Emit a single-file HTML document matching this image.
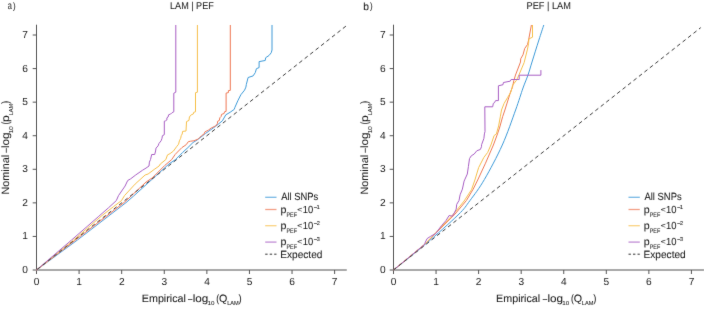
<!DOCTYPE html><html><head><meta charset="utf-8"><style>html,body{margin:0;padding:0;background:#fff;width:704px;height:309px;overflow:hidden}svg{display:block;will-change:transform}text{font-family:"Liberation Sans",sans-serif;fill:#222222;stroke:#222222;stroke-width:0.07px}</style></head><body>
<svg width="704" height="309" viewBox="0 0 704 309">
<defs><filter id="bl" x="0" y="0" width="704" height="309" filterUnits="userSpaceOnUse"><feConvolveMatrix order="3" kernelMatrix="0.00524 0.06192 0.00524 0.06192 0.73137 0.06192 0.00524 0.06192 0.00524" edgeMode="none"/></filter></defs><rect width="704" height="309" fill="#fff"/><g filter="url(#bl)">
<path d="M36.5,24.7V270M32.70,270H346.8" stroke="#555555" stroke-width="1" fill="none"/>
<path d="M36.50,270V274M79.09,270V274M32.70,236.43H36.5M121.68,270V274M32.70,202.86H36.5M164.27,270V274M32.70,169.29H36.5M206.86,270V274M32.70,135.72H36.5M249.45,270V274M32.70,102.15H36.5M292.04,270V274M32.70,68.58H36.5M334.63,270V274M32.70,35.01H36.5" stroke="#555555" stroke-width="1" fill="none"/>
<g transform="matrix(1,0,0.001,1,-0.2855,0)"><text x="33.76" y="285.50" font-size="10.2" textLength="5.67" lengthAdjust="spacingAndGlyphs" style="stroke:none">0</text></g>
<g transform="matrix(1,0,0.001,1,-0.2730,0)"><text x="22.23" y="273.00" font-size="10.2" textLength="5.67" lengthAdjust="spacingAndGlyphs" style="stroke:none">0</text></g>
<g transform="matrix(1,0,0.001,1,-0.2855,0)"><text x="76.21" y="285.50" font-size="10.2" textLength="5.67" lengthAdjust="spacingAndGlyphs" style="stroke:none">1</text></g>
<g transform="matrix(1,0,0.001,1,-0.2394,0)"><text x="22.33" y="239.43" font-size="10.2" textLength="5.67" lengthAdjust="spacingAndGlyphs" style="stroke:none">1</text></g>
<g transform="matrix(1,0,0.001,1,-0.2855,0)"><text x="118.94" y="285.50" font-size="10.2" textLength="5.67" lengthAdjust="spacingAndGlyphs" style="stroke:none">2</text></g>
<g transform="matrix(1,0,0.001,1,-0.2059,0)"><text x="22.34" y="205.86" font-size="10.2" textLength="5.67" lengthAdjust="spacingAndGlyphs" style="stroke:none">2</text></g>
<g transform="matrix(1,0,0.001,1,-0.2855,0)"><text x="161.56" y="285.50" font-size="10.2" textLength="5.67" lengthAdjust="spacingAndGlyphs" style="stroke:none">3</text></g>
<g transform="matrix(1,0,0.001,1,-0.1723,0)"><text x="22.28" y="172.29" font-size="10.2" textLength="5.67" lengthAdjust="spacingAndGlyphs" style="stroke:none">3</text></g>
<g transform="matrix(1,0,0.001,1,-0.2855,0)"><text x="204.16" y="285.50" font-size="10.2" textLength="5.67" lengthAdjust="spacingAndGlyphs" style="stroke:none">4</text></g>
<g transform="matrix(1,0,0.001,1,-0.1387,0)"><text x="22.13" y="138.72" font-size="10.2" textLength="5.67" lengthAdjust="spacingAndGlyphs" style="stroke:none">4</text></g>
<g transform="matrix(1,0,0.001,1,-0.2855,0)"><text x="246.72" y="285.50" font-size="10.2" textLength="5.67" lengthAdjust="spacingAndGlyphs" style="stroke:none">5</text></g>
<g transform="matrix(1,0,0.001,1,-0.1052,0)"><text x="22.26" y="105.15" font-size="10.2" textLength="5.67" lengthAdjust="spacingAndGlyphs" style="stroke:none">5</text></g>
<g transform="matrix(1,0,0.001,1,-0.2855,0)"><text x="289.27" y="285.50" font-size="10.2" textLength="5.67" lengthAdjust="spacingAndGlyphs" style="stroke:none">6</text></g>
<g transform="matrix(1,0,0.001,1,-0.0716,0)"><text x="22.28" y="71.58" font-size="10.2" textLength="5.67" lengthAdjust="spacingAndGlyphs" style="stroke:none">6</text></g>
<g transform="matrix(1,0,0.001,1,-0.2855,0)"><text x="331.89" y="285.50" font-size="10.2" textLength="5.67" lengthAdjust="spacingAndGlyphs" style="stroke:none">7</text></g>
<g transform="matrix(1,0,0.001,1,-0.0380,0)"><text x="22.34" y="38.01" font-size="10.2" textLength="5.67" lengthAdjust="spacingAndGlyphs" style="stroke:none">7</text></g>
<polyline points="36.5,270.0 77.4,240.0 126.0,202.6 133.6,196.0 168.9,164.0 175.5,159.6 182.8,152.3 187.9,147.6 193.0,142.5 197.3,139.9 204.1,134.6 205.3,133.6 215.6,126.3 222.4,120.8 225.8,114.8 230.1,112.3 234.3,109.3 234.8,107.6 237.8,100.8 240.8,94.8 244.6,90.1 245.9,87.1 246.3,84.6 248.1,77.5 253.1,75.9 255.3,72.6 256.4,68.7 259.1,67.6 259.1,61.6 265.2,60.5 265.7,57.7 269.0,55.5 271.2,52.8 272.0,50.0 272.0,25.0" stroke="#3d9ad8" stroke-width="1" fill="none" stroke-linejoin="round"/>
<polyline points="36.5,270.0 75.5,240.0 124.7,202.0 131.6,195.6 146.1,182.0 152.1,178.0 155.2,175.1 164.7,165.5 171.7,159.6 175.1,154.5 178.5,151.0 181.9,147.6 186.2,144.7 188.3,141.7 190.5,141.2 193.9,140.8 198.1,139.1 199.4,137.8 201.5,135.7 204.1,134.0 204.9,131.9 208.3,130.2 211.3,128.0 215.6,125.9 217.3,123.8 217.7,121.2 219.4,120.4 219.8,117.8 221.1,116.5 221.5,114.4 224.1,113.5 224.5,111.8 226.1,111.4 226.1,93.1 228.4,92.6 228.4,90.6 230.3,90.4 230.3,25.0" stroke="#ee7752" stroke-width="1" fill="none" stroke-linejoin="round"/>
<polyline points="36.5,270.0 73.6,240.0 102.0,215.5 113.7,206.5 121.5,200.6 124.5,195.6 135.1,184.1 145.1,175.0 148.1,174.0 154.1,169.5 159.1,166.0 160.3,164.0 165.8,159.6 167.5,154.9 170.1,153.6 173.5,151.0 176.5,146.8 178.6,144.2 179.4,140.8 180.7,138.3 181.2,135.7 182.2,134.0 182.6,131.4 186.0,131.0 186.5,121.6 189.0,120.4 189.4,117.0 191.2,114.8 193.3,114.0 193.7,112.3 195.5,111.8 195.5,92.7 197.4,92.2 197.4,25.0" stroke="#f6bf4a" stroke-width="1" fill="none" stroke-linejoin="round"/>
<polyline points="36.5,270.0 71.6,240.0 87.8,225.9 98.2,216.8 108.5,207.8 116.3,200.6 118.5,195.6 125.1,186.0 127.7,180.5 130.7,178.8 135.8,174.9 142.6,170.2 146.0,168.1 149.0,166.0 149.4,162.1 150.5,159.6 151.7,154.5 154.7,154.5 155.6,151.0 156.0,148.1 158.1,145.9 159.0,143.4 161.1,140.8 162.0,138.3 162.4,135.7 164.1,134.9 164.3,134.0 164.3,121.2 165.6,120.8 166.9,119.9 166.9,117.8 168.1,117.0 168.6,114.8 170.7,114.0 172.0,112.7 173.8,111.8 173.8,93.2 175.8,92.2 175.8,25.0" stroke="#a85fc4" stroke-width="1" fill="none" stroke-linejoin="round"/>
<path d="M36.5,270L346.13,25.95" stroke="#3a3a3a" stroke-width="1" stroke-dasharray="3.8 3.15" stroke-dashoffset="-0.95" fill="none"/>
<path d="M393.5,24.7V270M389.70,270H704" stroke="#555555" stroke-width="1" fill="none"/>
<path d="M393.50,270V274M436.06,270V274M389.70,236.43H393.5M478.62,270V274M389.70,202.86H393.5M521.18,270V274M389.70,169.29H393.5M563.74,270V274M389.70,135.72H393.5M606.30,270V274M389.70,102.15H393.5M648.86,270V274M389.70,68.58H393.5M691.42,270V274M389.70,35.01H393.5" stroke="#555555" stroke-width="1" fill="none"/>
<g transform="matrix(1,0,0.001,1,-0.2855,0)"><text x="390.76" y="285.50" font-size="10.2" textLength="5.67" lengthAdjust="spacingAndGlyphs" style="stroke:none">0</text></g>
<g transform="matrix(1,0,0.001,1,-0.2730,0)"><text x="380.03" y="273.00" font-size="10.2" textLength="5.67" lengthAdjust="spacingAndGlyphs" style="stroke:none">0</text></g>
<g transform="matrix(1,0,0.001,1,-0.2855,0)"><text x="433.18" y="285.50" font-size="10.2" textLength="5.67" lengthAdjust="spacingAndGlyphs" style="stroke:none">1</text></g>
<g transform="matrix(1,0,0.001,1,-0.2394,0)"><text x="380.13" y="239.43" font-size="10.2" textLength="5.67" lengthAdjust="spacingAndGlyphs" style="stroke:none">1</text></g>
<g transform="matrix(1,0,0.001,1,-0.2855,0)"><text x="475.88" y="285.50" font-size="10.2" textLength="5.67" lengthAdjust="spacingAndGlyphs" style="stroke:none">2</text></g>
<g transform="matrix(1,0,0.001,1,-0.2059,0)"><text x="380.14" y="205.86" font-size="10.2" textLength="5.67" lengthAdjust="spacingAndGlyphs" style="stroke:none">2</text></g>
<g transform="matrix(1,0,0.001,1,-0.2855,0)"><text x="518.47" y="285.50" font-size="10.2" textLength="5.67" lengthAdjust="spacingAndGlyphs" style="stroke:none">3</text></g>
<g transform="matrix(1,0,0.001,1,-0.1723,0)"><text x="380.08" y="172.29" font-size="10.2" textLength="5.67" lengthAdjust="spacingAndGlyphs" style="stroke:none">3</text></g>
<g transform="matrix(1,0,0.001,1,-0.2855,0)"><text x="561.04" y="285.50" font-size="10.2" textLength="5.67" lengthAdjust="spacingAndGlyphs" style="stroke:none">4</text></g>
<g transform="matrix(1,0,0.001,1,-0.1387,0)"><text x="379.93" y="138.72" font-size="10.2" textLength="5.67" lengthAdjust="spacingAndGlyphs" style="stroke:none">4</text></g>
<g transform="matrix(1,0,0.001,1,-0.2855,0)"><text x="603.57" y="285.50" font-size="10.2" textLength="5.67" lengthAdjust="spacingAndGlyphs" style="stroke:none">5</text></g>
<g transform="matrix(1,0,0.001,1,-0.1052,0)"><text x="380.06" y="105.15" font-size="10.2" textLength="5.67" lengthAdjust="spacingAndGlyphs" style="stroke:none">5</text></g>
<g transform="matrix(1,0,0.001,1,-0.2855,0)"><text x="646.09" y="285.50" font-size="10.2" textLength="5.67" lengthAdjust="spacingAndGlyphs" style="stroke:none">6</text></g>
<g transform="matrix(1,0,0.001,1,-0.0716,0)"><text x="380.08" y="71.58" font-size="10.2" textLength="5.67" lengthAdjust="spacingAndGlyphs" style="stroke:none">6</text></g>
<g transform="matrix(1,0,0.001,1,-0.2855,0)"><text x="688.68" y="285.50" font-size="10.2" textLength="5.67" lengthAdjust="spacingAndGlyphs" style="stroke:none">7</text></g>
<g transform="matrix(1,0,0.001,1,-0.0380,0)"><text x="380.14" y="38.01" font-size="10.2" textLength="5.67" lengthAdjust="spacingAndGlyphs" style="stroke:none">7</text></g>
<path d="M393.50,270.00C398.75,265.75 414.25,253.67 425.00,244.50C435.75,235.33 450.50,222.33 458.00,215.00C465.50,207.67 465.60,206.42 470.00,200.50C474.40,194.58 479.02,188.75 484.40,179.50C489.78,170.25 497.10,156.58 502.30,145.00C507.50,133.42 512.15,119.50 515.60,110.00C519.05,100.50 520.93,93.83 523.00,88.00C525.07,82.17 526.50,79.33 528.00,75.00C529.50,70.67 530.18,67.83 532.00,62.00C533.82,56.17 536.93,46.17 538.90,40.00C540.87,33.83 542.98,27.50 543.80,25.00" stroke="#3d9ad8" stroke-width="1" fill="none"/>
<polyline points="393.5,270.0 424.5,244.5 455.0,214.1 466.4,200.5 473.2,189.1 477.7,180.0 485.5,163.2 493.4,145.0 497.5,133.9 499.8,127.0 502.6,116.8 504.9,110.0 510.9,90.9 512.4,87.6 513.8,80.7 515.5,75.0 520.5,62.0 520.7,58.8 523.0,54.8 524.7,48.5 527.5,44.5 528.6,40.0 531.4,25.0" stroke="#ee7752" stroke-width="1" fill="none" stroke-linejoin="round"/>
<polyline points="393.5,270.0 424.5,244.5 454.4,213.0 464.1,201.0 471.5,189.7 474.9,180.0 478.6,167.7 483.8,157.5 487.7,152.4 490.9,145.0 494.1,135.6 496.4,133.9 498.6,125.9 500.3,116.8 501.5,110.0 504.1,103.4 507.5,97.7 510.9,92.0 512.6,85.2 516.6,80.1 518.9,75.0 524.1,62.7 527.5,49.1 528.6,43.4 528.9,38.9 532.5,37.2 532.5,25.0" stroke="#f6bf4a" stroke-width="1" fill="none" stroke-linejoin="round"/>
<polyline points="393.5,270.0 424.5,244.5 425.4,242.0 427.1,238.6 430.5,236.4 435.7,233.5 441.3,225.9 445.9,220.7 449.1,215.5 452.3,216.2 454.3,212.9 456.2,209.1 456.7,204.4 459.0,200.5 460.1,194.8 462.4,189.1 464.1,181.1 465.0,179.1 467.3,174.0 468.4,166.6 469.5,158.6 471.3,155.8 474.1,154.1 476.9,150.7 480.3,149.5 481.5,146.7 481.6,144.7 483.9,138.4 484.4,133.9 485.0,131.6 484.8,106.8 492.7,106.8 493.3,103.4 494.4,102.8 495.6,100.6 498.4,100.6 498.4,85.8 503.0,84.7 503.4,82.5 510.2,81.2 511.1,79.5 519.2,79.5 519.2,75.2 540.9,75.2 540.9,70.1" stroke="#a85fc4" stroke-width="1" fill="none" stroke-linejoin="round"/>
<path d="M393.5,270L700.78,27.62" stroke="#3a3a3a" stroke-width="1" stroke-dasharray="3.8 3.15" stroke-dashoffset="0.1" fill="none"/>
<g transform="matrix(1,0,0.001,1,-0.0092,0)"><text x="7.69" y="9.25" font-size="10.4" textLength="4.11" lengthAdjust="spacingAndGlyphs">a</text></g>
<g transform="matrix(1,0,0.001,1,-0.0088,0)"><text x="13.05" y="8.80" font-size="9.4" textLength="2.64" lengthAdjust="spacingAndGlyphs">)</text></g>
<g transform="matrix(1,0,0.001,1,-0.0098,0)"><text x="363.14" y="9.80" font-size="10.4" textLength="5.69" lengthAdjust="spacingAndGlyphs">b</text></g>
<g transform="matrix(1,0,0.001,1,-0.0089,0)"><text x="370.05" y="8.90" font-size="9.4" textLength="2.64" lengthAdjust="spacingAndGlyphs">)</text></g>
<g transform="matrix(1,0,0.001,1,-0.0093,0)"><text x="170.06" y="9.30" font-size="9.9" textLength="43.71" lengthAdjust="spacingAndGlyphs">LAM | PEF</text></g>
<g transform="matrix(1,0,0.001,1,-0.0093,0)"><text x="526.55" y="9.30" font-size="9.9" textLength="44.31" lengthAdjust="spacingAndGlyphs">PEF | LAM</text></g>
<g transform="matrix(1,0,0.001,1,-0.3020,0)"><text x="141.82" y="302.00" font-size="10.6" textLength="44.10" lengthAdjust="spacingAndGlyphs">Empirical</text></g>
<g transform="matrix(1,0,0.001,1,-0.3020,0)"><text x="188.10" y="302.00" font-size="10.6" textLength="4.40" lengthAdjust="spacingAndGlyphs">–</text></g>
<g transform="matrix(1,0,0.001,1,-0.3020,0)"><text x="192.71" y="302.00" font-size="10.6" textLength="15.65" lengthAdjust="spacingAndGlyphs">log</text></g>
<g transform="matrix(1,0,0.001,1,-0.3054,0)"><text x="207.53" y="305.40" font-size="5.7" textLength="6.92" lengthAdjust="spacingAndGlyphs">10</text></g>
<g transform="matrix(1,0,0.001,1,-0.3020,0)"><text x="216.26" y="302.00" font-size="10.6" textLength="2.89" lengthAdjust="spacingAndGlyphs">(</text></g>
<g transform="matrix(1,0,0.001,1,-0.3020,0)"><text x="218.99" y="302.00" font-size="10.6" textLength="8.32" lengthAdjust="spacingAndGlyphs">Q</text></g>
<g transform="matrix(1,0,0.001,1,-0.3054,0)"><text x="227.14" y="305.40" font-size="5.7" textLength="11.63" lengthAdjust="spacingAndGlyphs">LAM</text></g>
<g transform="matrix(1,0,0.001,1,-0.3020,0)"><text x="238.44" y="302.00" font-size="10.6" textLength="3.14" lengthAdjust="spacingAndGlyphs">)</text></g>
<g transform="matrix(1,0,0.001,1,-0.3020,0)"><text x="496.12" y="302.00" font-size="10.6" textLength="44.10" lengthAdjust="spacingAndGlyphs">Empirical</text></g>
<g transform="matrix(1,0,0.001,1,-0.3020,0)"><text x="542.80" y="302.00" font-size="10.6" textLength="4.40" lengthAdjust="spacingAndGlyphs">–</text></g>
<g transform="matrix(1,0,0.001,1,-0.3020,0)"><text x="547.41" y="302.00" font-size="10.6" textLength="15.65" lengthAdjust="spacingAndGlyphs">log</text></g>
<g transform="matrix(1,0,0.001,1,-0.3054,0)"><text x="562.23" y="305.40" font-size="5.7" textLength="6.92" lengthAdjust="spacingAndGlyphs">10</text></g>
<g transform="matrix(1,0,0.001,1,-0.3020,0)"><text x="570.96" y="302.00" font-size="10.6" textLength="2.89" lengthAdjust="spacingAndGlyphs">(</text></g>
<g transform="matrix(1,0,0.001,1,-0.3020,0)"><text x="573.79" y="302.00" font-size="10.6" textLength="8.32" lengthAdjust="spacingAndGlyphs">Q</text></g>
<g transform="matrix(1,0,0.001,1,-0.3054,0)"><text x="581.84" y="305.40" font-size="5.7" textLength="11.63" lengthAdjust="spacingAndGlyphs">LAM</text></g>
<g transform="matrix(1,0,0.001,1,-0.3020,0)"><text x="593.14" y="302.00" font-size="10.6" textLength="3.14" lengthAdjust="spacingAndGlyphs">)</text></g>
<g transform="translate(9.20,193.7) rotate(-90)">
<g transform="matrix(1,0,0.001,1,-0.0000,0)"><text x="-0.89" y="0.00" font-size="10.6" textLength="39.71" lengthAdjust="spacingAndGlyphs">Nominal</text></g>
<g transform="matrix(1,0,0.001,1,-0.0000,0)"><text x="41.00" y="0.00" font-size="10.6" textLength="4.40" lengthAdjust="spacingAndGlyphs">–</text></g>
<g transform="matrix(1,0,0.001,1,-0.0000,0)"><text x="45.61" y="0.00" font-size="10.6" textLength="15.65" lengthAdjust="spacingAndGlyphs">log</text></g>
<g transform="matrix(1,0,0.001,1,-0.0034,0)"><text x="60.43" y="3.40" font-size="5.7" textLength="6.92" lengthAdjust="spacingAndGlyphs">10</text></g>
<g transform="matrix(1,0,0.001,1,-0.0000,0)"><text x="69.16" y="0.00" font-size="10.6" textLength="2.89" lengthAdjust="spacingAndGlyphs">(</text></g>
<g transform="matrix(1,0,0.001,1,-0.0000,0)"><text x="71.73" y="0.00" font-size="10.6" textLength="6.68" lengthAdjust="spacingAndGlyphs">p</text></g>
<g transform="matrix(1,0,0.001,1,-0.0034,0)"><text x="78.34" y="3.40" font-size="5.7" textLength="11.63" lengthAdjust="spacingAndGlyphs">LAM</text></g>
<g transform="matrix(1,0,0.001,1,-0.0000,0)"><text x="89.64" y="0.00" font-size="10.6" textLength="3.39" lengthAdjust="spacingAndGlyphs">)</text></g>
</g>
<g transform="translate(368.20,193.7) rotate(-90)">
<g transform="matrix(1,0,0.001,1,-0.0000,0)"><text x="-0.89" y="0.00" font-size="10.6" textLength="39.71" lengthAdjust="spacingAndGlyphs">Nominal</text></g>
<g transform="matrix(1,0,0.001,1,-0.0000,0)"><text x="41.00" y="0.00" font-size="10.6" textLength="4.40" lengthAdjust="spacingAndGlyphs">–</text></g>
<g transform="matrix(1,0,0.001,1,-0.0000,0)"><text x="45.61" y="0.00" font-size="10.6" textLength="15.65" lengthAdjust="spacingAndGlyphs">log</text></g>
<g transform="matrix(1,0,0.001,1,-0.0034,0)"><text x="60.43" y="3.40" font-size="5.7" textLength="6.92" lengthAdjust="spacingAndGlyphs">10</text></g>
<g transform="matrix(1,0,0.001,1,-0.0000,0)"><text x="69.16" y="0.00" font-size="10.6" textLength="2.89" lengthAdjust="spacingAndGlyphs">(</text></g>
<g transform="matrix(1,0,0.001,1,-0.0000,0)"><text x="71.73" y="0.00" font-size="10.6" textLength="6.68" lengthAdjust="spacingAndGlyphs">p</text></g>
<g transform="matrix(1,0,0.001,1,-0.0034,0)"><text x="78.34" y="3.40" font-size="5.7" textLength="11.63" lengthAdjust="spacingAndGlyphs">LAM</text></g>
<g transform="matrix(1,0,0.001,1,-0.0000,0)"><text x="89.64" y="0.00" font-size="10.6" textLength="3.39" lengthAdjust="spacingAndGlyphs">)</text></g>
</g>
<path d="M265.20,197.3h11.3" stroke="#3d9ad8" stroke-width="1.3" stroke-opacity="0.7"/>
<path d="M265.20,209.5h11.3" stroke="#ee7752" stroke-width="1.3" stroke-opacity="0.7"/>
<path d="M265.20,225.7h11.3" stroke="#f6bf4a" stroke-width="1.3" stroke-opacity="0.7"/>
<path d="M265.20,242.1h11.3" stroke="#a85fc4" stroke-width="1.3" stroke-opacity="0.7"/>
<path d="M265.20,254.2h11.3" stroke="#333" stroke-width="1" stroke-dasharray="2.4 2.1"/>
<g transform="matrix(1,0,0.001,1,-0.1997,0)"><text x="281.18" y="199.70" font-size="10.4" textLength="37.16" lengthAdjust="spacingAndGlyphs">All SNPs</text></g>
<g transform="matrix(1,0,0.001,1,-0.2126,0)"><text x="280.51" y="212.60" font-size="10.4" textLength="5.94" lengthAdjust="spacingAndGlyphs">p</text></g>
<g transform="matrix(1,0,0.001,1,-0.2166,0)"><text x="286.45" y="216.60" font-size="6.6" textLength="10.56" lengthAdjust="spacingAndGlyphs">PEF</text></g>
<g transform="matrix(1,0,0.001,1,-0.2117,0)"><text x="297.38" y="211.70" font-size="7.0" textLength="4.93" lengthAdjust="spacingAndGlyphs">&lt;</text></g>
<g transform="matrix(1,0,0.001,1,-0.2126,0)"><text x="302.78" y="212.60" font-size="10.2" textLength="10.49" lengthAdjust="spacingAndGlyphs">10</text></g>
<g transform="matrix(1,0,0.001,1,-0.2087,0)"><text x="313.90" y="208.70" font-size="6.6" textLength="3.10" lengthAdjust="spacingAndGlyphs">–</text></g>
<g transform="matrix(1,0,0.001,1,-0.2086,0)"><text x="316.54" y="208.60" font-size="5.6" textLength="3.35" lengthAdjust="spacingAndGlyphs">1</text></g>
<g transform="matrix(1,0,0.001,1,-0.2288,0)"><text x="280.51" y="228.80" font-size="10.4" textLength="5.94" lengthAdjust="spacingAndGlyphs">p</text></g>
<g transform="matrix(1,0,0.001,1,-0.2328,0)"><text x="286.45" y="232.80" font-size="6.6" textLength="10.56" lengthAdjust="spacingAndGlyphs">PEF</text></g>
<g transform="matrix(1,0,0.001,1,-0.2279,0)"><text x="297.38" y="227.90" font-size="7.0" textLength="4.93" lengthAdjust="spacingAndGlyphs">&lt;</text></g>
<g transform="matrix(1,0,0.001,1,-0.2288,0)"><text x="302.78" y="228.80" font-size="10.2" textLength="10.49" lengthAdjust="spacingAndGlyphs">10</text></g>
<g transform="matrix(1,0,0.001,1,-0.2249,0)"><text x="313.90" y="224.90" font-size="6.6" textLength="3.10" lengthAdjust="spacingAndGlyphs">–</text></g>
<g transform="matrix(1,0,0.001,1,-0.2248,0)"><text x="316.71" y="224.80" font-size="5.6" textLength="3.17" lengthAdjust="spacingAndGlyphs">2</text></g>
<g transform="matrix(1,0,0.001,1,-0.2452,0)"><text x="280.51" y="245.20" font-size="10.4" textLength="5.94" lengthAdjust="spacingAndGlyphs">p</text></g>
<g transform="matrix(1,0,0.001,1,-0.2492,0)"><text x="286.45" y="249.20" font-size="6.6" textLength="10.56" lengthAdjust="spacingAndGlyphs">PEF</text></g>
<g transform="matrix(1,0,0.001,1,-0.2443,0)"><text x="297.38" y="244.30" font-size="7.0" textLength="4.93" lengthAdjust="spacingAndGlyphs">&lt;</text></g>
<g transform="matrix(1,0,0.001,1,-0.2452,0)"><text x="302.78" y="245.20" font-size="10.2" textLength="10.49" lengthAdjust="spacingAndGlyphs">10</text></g>
<g transform="matrix(1,0,0.001,1,-0.2413,0)"><text x="313.90" y="241.30" font-size="6.6" textLength="3.10" lengthAdjust="spacingAndGlyphs">–</text></g>
<g transform="matrix(1,0,0.001,1,-0.2412,0)"><text x="316.79" y="241.20" font-size="5.6" textLength="3.05" lengthAdjust="spacingAndGlyphs">3</text></g>
<g transform="matrix(1,0,0.001,1,-0.2577,0)"><text x="280.17" y="257.70" font-size="10.4" textLength="42.29" lengthAdjust="spacingAndGlyphs">Expected</text></g>
<path d="M628.50,197.3h11.3" stroke="#3d9ad8" stroke-width="1.3" stroke-opacity="0.7"/>
<path d="M628.50,209.5h11.3" stroke="#ee7752" stroke-width="1.3" stroke-opacity="0.7"/>
<path d="M628.50,225.7h11.3" stroke="#f6bf4a" stroke-width="1.3" stroke-opacity="0.7"/>
<path d="M628.50,242.1h11.3" stroke="#a85fc4" stroke-width="1.3" stroke-opacity="0.7"/>
<path d="M628.50,254.2h11.3" stroke="#333" stroke-width="1" stroke-dasharray="2.4 2.1"/>
<g transform="matrix(1,0,0.001,1,-0.1997,0)"><text x="644.48" y="199.70" font-size="10.4" textLength="37.16" lengthAdjust="spacingAndGlyphs">All SNPs</text></g>
<g transform="matrix(1,0,0.001,1,-0.2126,0)"><text x="643.81" y="212.60" font-size="10.4" textLength="5.94" lengthAdjust="spacingAndGlyphs">p</text></g>
<g transform="matrix(1,0,0.001,1,-0.2166,0)"><text x="649.75" y="216.60" font-size="6.6" textLength="10.56" lengthAdjust="spacingAndGlyphs">PEF</text></g>
<g transform="matrix(1,0,0.001,1,-0.2117,0)"><text x="660.68" y="211.70" font-size="7.0" textLength="4.93" lengthAdjust="spacingAndGlyphs">&lt;</text></g>
<g transform="matrix(1,0,0.001,1,-0.2126,0)"><text x="666.08" y="212.60" font-size="10.2" textLength="10.49" lengthAdjust="spacingAndGlyphs">10</text></g>
<g transform="matrix(1,0,0.001,1,-0.2087,0)"><text x="677.20" y="208.70" font-size="6.6" textLength="3.10" lengthAdjust="spacingAndGlyphs">–</text></g>
<g transform="matrix(1,0,0.001,1,-0.2086,0)"><text x="679.84" y="208.60" font-size="5.6" textLength="3.35" lengthAdjust="spacingAndGlyphs">1</text></g>
<g transform="matrix(1,0,0.001,1,-0.2288,0)"><text x="643.81" y="228.80" font-size="10.4" textLength="5.94" lengthAdjust="spacingAndGlyphs">p</text></g>
<g transform="matrix(1,0,0.001,1,-0.2328,0)"><text x="649.75" y="232.80" font-size="6.6" textLength="10.56" lengthAdjust="spacingAndGlyphs">PEF</text></g>
<g transform="matrix(1,0,0.001,1,-0.2279,0)"><text x="660.68" y="227.90" font-size="7.0" textLength="4.93" lengthAdjust="spacingAndGlyphs">&lt;</text></g>
<g transform="matrix(1,0,0.001,1,-0.2288,0)"><text x="666.08" y="228.80" font-size="10.2" textLength="10.49" lengthAdjust="spacingAndGlyphs">10</text></g>
<g transform="matrix(1,0,0.001,1,-0.2249,0)"><text x="677.20" y="224.90" font-size="6.6" textLength="3.10" lengthAdjust="spacingAndGlyphs">–</text></g>
<g transform="matrix(1,0,0.001,1,-0.2248,0)"><text x="680.01" y="224.80" font-size="5.6" textLength="3.17" lengthAdjust="spacingAndGlyphs">2</text></g>
<g transform="matrix(1,0,0.001,1,-0.2452,0)"><text x="643.81" y="245.20" font-size="10.4" textLength="5.94" lengthAdjust="spacingAndGlyphs">p</text></g>
<g transform="matrix(1,0,0.001,1,-0.2492,0)"><text x="649.75" y="249.20" font-size="6.6" textLength="10.56" lengthAdjust="spacingAndGlyphs">PEF</text></g>
<g transform="matrix(1,0,0.001,1,-0.2443,0)"><text x="660.68" y="244.30" font-size="7.0" textLength="4.93" lengthAdjust="spacingAndGlyphs">&lt;</text></g>
<g transform="matrix(1,0,0.001,1,-0.2452,0)"><text x="666.08" y="245.20" font-size="10.2" textLength="10.49" lengthAdjust="spacingAndGlyphs">10</text></g>
<g transform="matrix(1,0,0.001,1,-0.2413,0)"><text x="677.20" y="241.30" font-size="6.6" textLength="3.10" lengthAdjust="spacingAndGlyphs">–</text></g>
<g transform="matrix(1,0,0.001,1,-0.2412,0)"><text x="680.09" y="241.20" font-size="5.6" textLength="3.05" lengthAdjust="spacingAndGlyphs">3</text></g>
<g transform="matrix(1,0,0.001,1,-0.2577,0)"><text x="643.47" y="257.70" font-size="10.4" textLength="42.29" lengthAdjust="spacingAndGlyphs">Expected</text></g>
</g></svg></body></html>
